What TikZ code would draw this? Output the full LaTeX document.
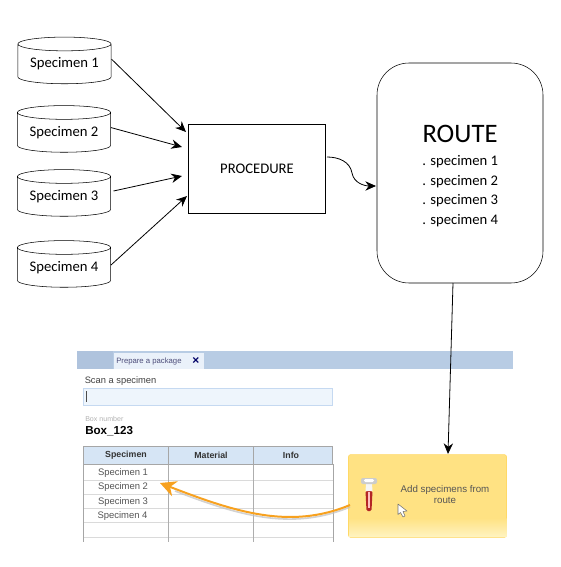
\documentclass[tikz,border=0pt]{standalone}
\usepackage{fontspec}
\setmainfont{Carlito}
\newfontfamily\uifont{Liberation Sans}
\usepackage{tikz}
\usetikzlibrary{arrows.meta,positioning,shapes.geometric}
\usepackage{xcolor}
\definecolor{tabblue}{HTML}{B8CCE4}
\definecolor{tabdark}{HTML}{AFC3DD}
\definecolor{tabwhite}{HTML}{EAF1FA}
\definecolor{inputblue}{HTML}{EEF5FC}
\definecolor{inputline}{HTML}{C5D9F1}
\definecolor{headblue}{HTML}{D6E5F5}
\definecolor{gridgray}{HTML}{DADADA}
\definecolor{tablegray}{HTML}{A6A6A6}
\definecolor{uigray}{HTML}{555555}
\definecolor{btnline}{HTML}{FFD966}
\definecolor{btnmid}{HTML}{FFE283}
\definecolor{btnlow}{HTML}{FFF3C0}
\definecolor{pathorange}{HTML}{F7A11F}

\begin{document}
\begin{tikzpicture}[
    x=0.75pt, y=-0.75pt,
    >=Stealth,
    specimen/.style={draw, cylinder, shape border rotate=90, aspect=0.2, minimum width=70pt, minimum height=35pt, inner sep=0pt, font=\fontsize{11}{12}\selectfont},
    arrow/.style={->, semithick, >={Stealth[length=8pt,width=7pt]}},
    routeitem/.style={anchor=west, inner sep=0pt, font=\fontsize{11}{12}\selectfont},
    uitext/.style={inner sep=0pt, font=\uifont\fontsize{6.6}{8}\selectfont, text=uigray},
    cell/.style={uitext, anchor=center, font=\uifont\fontsize{7.1}{8}\selectfont},
    headcell/.style={draw=tablegray, fill=headblue, minimum height=13.5pt, inner sep=0pt, font=\uifont\bfseries\fontsize{6.6}{8}\selectfont, text=black!80}
]
\useasboundingbox (0,0) rectangle (560,567);

% ---- Specimens ----
\node[specimen] (spec1) at (64.5,64) {Specimen 1};
\node[specimen] (spec2) at (64,132.5) {Specimen 2};
\node[specimen] (spec3) at (64,196.5) {Specimen 3};
\node[specimen] (spec4) at (64,267.5) {Specimen 4};

% ---- Procedure and route ----
\node[draw, minimum width=103pt, minimum height=67pt, inner sep=0pt, font=\fontsize{11}{12}\selectfont] (proc) at (257,169) {PROCEDURE};
\node[draw, rounded corners=24pt, minimum width=124.5pt, minimum height=165pt] (route) at (460,173) {};
\node[inner sep=0pt, font=\fontsize{20}{22}\selectfont] (routetitle) at (460,134) {ROUTE};
\node[routeitem] (item1) at (422,162) {. specimen 1};
\node[routeitem] (item2) at (422,182) {. specimen 2};
\node[routeitem] (item3) at (422,201) {. specimen 3};
\node[routeitem] (item4) at (422,221) {. specimen 4};

% ---- Arrow ends ----
\coordinate (procin1) at (186,132);
\coordinate (procin2) at (182,147);
\coordinate (procin3) at (182,176);
\coordinate (procin4) at (187,196);
\coordinate (procout) at (327,157);
\coordinate (procmid) at (352,173);
\coordinate (routein) at (376,186);
\coordinate (routeout) at (453,283);
\coordinate (btnin) at (448,454);
\coordinate (pathstart) at (350,505);
\coordinate (pathend) at (160,483);
\coordinate (shadowstart) at (350,507);
\coordinate (shadowend) at (175,491);

% ---- Upper arrows ----
\draw[arrow] (spec1.6) -- (procin1);
\draw[arrow] (spec2.6) -- (procin2);
\draw[arrow, shorten <=2pt] (spec3.6) -- (procin3);
\draw[arrow] (spec4.3) -- (procin4);
\draw[arrow] (procout) to[out=0, in=100] (procmid) to[out=-80, in=180] (routein);

% ---- Screen ----
\node[fill=tabblue, minimum width=327pt, minimum height=13.5pt, inner sep=0pt] (tabbar) at (295,360) {};
\node[fill=tabdark, minimum width=27pt, minimum height=13.5pt, inner sep=0pt] (tabgrip) at (95,360) {};
\node[fill=tabwhite, minimum width=67.5pt, minimum height=12pt, inner sep=0pt] (tab) at (159,361) {};
\node[uitext, text=blue!25!black!70, anchor=west, font=\uifont\fontsize{5.8}{7}\selectfont] (tabtext) at (116,361) {Prepare a package};
\node[uitext, anchor=center, text=blue!40!black, font=\uifont\bfseries\fontsize{9}{9}\selectfont] (tabclose) at (196,361) {×};
\node[uitext, anchor=west, text=black!75, font=\uifont\fontsize{7}{8}\selectfont] (scanlabel) at (84.5,381) {Scan a specimen};
\node[draw=inputline, fill=inputblue, minimum width=187pt, minimum height=12.5pt, inner sep=0pt] (scanbox) at (208,396.5) {};
\node[uitext, anchor=west, text=black!30, font=\uifont\fontsize{5.3}{7}\selectfont] (boxlabel) at (85,419) {Box number};
\node[uitext, anchor=west, text=black, font=\uifont\bfseries\fontsize{8.7}{11}\selectfont] (boxname) at (85,431) {Box\_123};
\draw[black!70] (86,391) -- (86,402);

% ---- Table ----
\draw[gridgray] (83,480) -- (333,480) (83,494) -- (333,494) (83,508.5) -- (333,508.5) (83,522.5) -- (333,522.5) (83,537) -- (333,537);
\draw[tablegray] (83.5,464) -- (83.5,542) (333,464) -- (333,542);
\draw[gridgray!80!black] (168.5,464) -- (168.5,542) (253.5,464) -- (253.5,542);
\node[headcell, minimum width=63.5pt] (headspec) at (126,455) {Specimen};
\node[headcell, minimum width=63.5pt] (headmat) at (211,455) {Material};
\node[headcell, minimum width=59.5pt] (headinfo) at (293,455) {\hspace*{-3pt}Info};
\node[cell] (row1) at (123,473) {Specimen 1};
\node[cell] (row2) at (123,487) {Specimen 2};
\node[cell] (row3) at (123,502) {Specimen 3};
\node[cell] (row4) at (122.5,516.5) {Specimen 4};

% ---- Button ----
\node[draw=btnline, fill=btnmid, rounded corners=1.5pt, minimum width=118.5pt, minimum height=62pt, inner sep=0pt] (btn) at (427.5,496) {};
\shade[top color=btnmid, bottom color=btnlow] (349,518) rectangle (506.5,536.5);
\node[uitext, align=center, font=\uifont\fontsize{7.3}{8.8}\selectfont] (btntext) at (445,494.5) {Add specimens from\\route};

% ---- Tube icon ----
\fill[red!65!black!85!white, rounded corners=1pt] (365.5,491) -- (372.5,491) -- (371.5,511) -- (366.5,511) -- cycle;
\fill[red!25!white] (368,492) rectangle (370,508);
\fill[white!92!gray] (366,484) -- (372,484) -- (372.5,491) -- (365.5,491) -- cycle;
\fill[gray!40, rounded corners=1.5pt] (361,478) rectangle (377,484);
\fill[white, rounded corners=1pt] (364,479) rectangle (374,482);

% ---- Mouse pointer ----
\draw[gray!90!black, fill=white, line join=round] (398,504) -- (398,514.5) -- (400.5,512.5) -- (403,517) -- (405,516) -- (403,511.5) -- (407,511) -- cycle;

% ---- Lower connectors ----
\draw[gray!50, line width=1.2pt, opacity=.7] (shadowstart) .. controls (290,532) and (235,514) .. (shadowend);
\draw[pathorange, line width=1.5pt, -{Stealth[length=12pt,width=12pt]}] (pathstart) .. controls (290,530) and (235,512) .. (pathend);
\draw[arrow] (routeout) -- (btnin);

\end{tikzpicture}
\end{document}
